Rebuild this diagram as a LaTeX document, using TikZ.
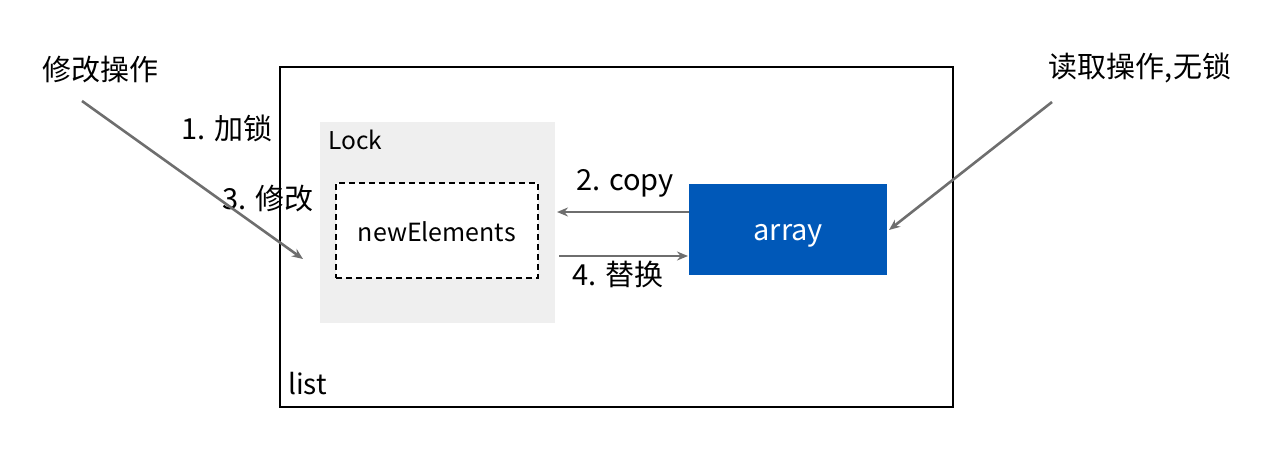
\documentclass[tikz,border=0pt]{standalone}
\usepackage{fontspec}
\setmainfont{Noto Sans CJK SC}
\usetikzlibrary{arrows.meta}
\definecolor{arrgray}{HTML}{6E6E6E}
\definecolor{lockgray}{HTML}{EFEFEF}
\definecolor{arrblue}{HTML}{0058B8}
\tikzset{
  conn/.style={draw=arrgray, line width=2.6pt, -{Stealth[length=11pt,width=9pt]}},
  lbl/.style={inner sep=0pt, font=\fontsize{29}{34}\selectfont},
}
\begin{document}
\begin{tikzpicture}[x=1pt,y=-1pt]
\useasboundingbox (0,0) rectangle (1283,456);
\node[draw=black, line width=1.5pt, minimum width=673pt, minimum height=340pt, inner sep=0pt, anchor=north west] (list) at (279,66) {};
\node[fill=lockgray, minimum width=235pt, minimum height=201pt, inner sep=0pt, anchor=north west] (lock) at (320,122) {};
\node[anchor=west, inner sep=0pt, font=\fontsize{24.5}{28}\selectfont] (locklbl) at (328,140) {Lock};
\node[draw=black, line width=1.6pt, dash pattern=on 6pt off 4pt, fill=white, minimum width=202pt, minimum height=95pt, inner sep=0pt, anchor=north west] (newel) at (335,182) {};
\node[inner sep=0pt, font=\fontsize{25}{30}\selectfont, yshift=-1pt] (newlbl) at (newel.center) {newElements};
\node[fill=arrblue, minimum width=198pt, minimum height=91pt, inner sep=0pt, anchor=north west] (array) at (689,184) {};
\node[text=white, inner sep=0pt, font=\fontsize{29}{34}\selectfont, yshift=-6pt] (arrlbl) at (array.center) {array};
\node[anchor=west, inner sep=0pt, font=\fontsize{28}{32}\selectfont] (listlbl) at (288,384) {list};

\coordinate (c1s) at (689,212);
\coordinate (c1e) at (557,212);
\coordinate (c2s) at (559,256);
\coordinate (c2e) at (688,256);
\draw[conn] (c1s) -- (c1e);
\draw[conn] (c2s) -- (c2e);
\node[lbl] (copylbl) at (625,183) {2. copy};
\node[lbl] (replbl) at (618,274) {4. 替换};

\node[lbl] (modop) at (100,70) {修改操作};
\node[lbl] (lockstep) at (227,128) {1. 加锁};
\node[lbl] (modstep) at (268,199) {3. 修改};
\coordinate (la) at (82,101);
\coordinate (lb) at (303,259);
\draw[conn] (la) -- (lb);

\node[lbl] (readop) at (1140,68) {读取操作,无锁};
\coordinate (ra) at (1052,102);
\coordinate (rb) at (889,230);
\draw[conn] (ra) -- (rb);
\end{tikzpicture}
\end{document}
